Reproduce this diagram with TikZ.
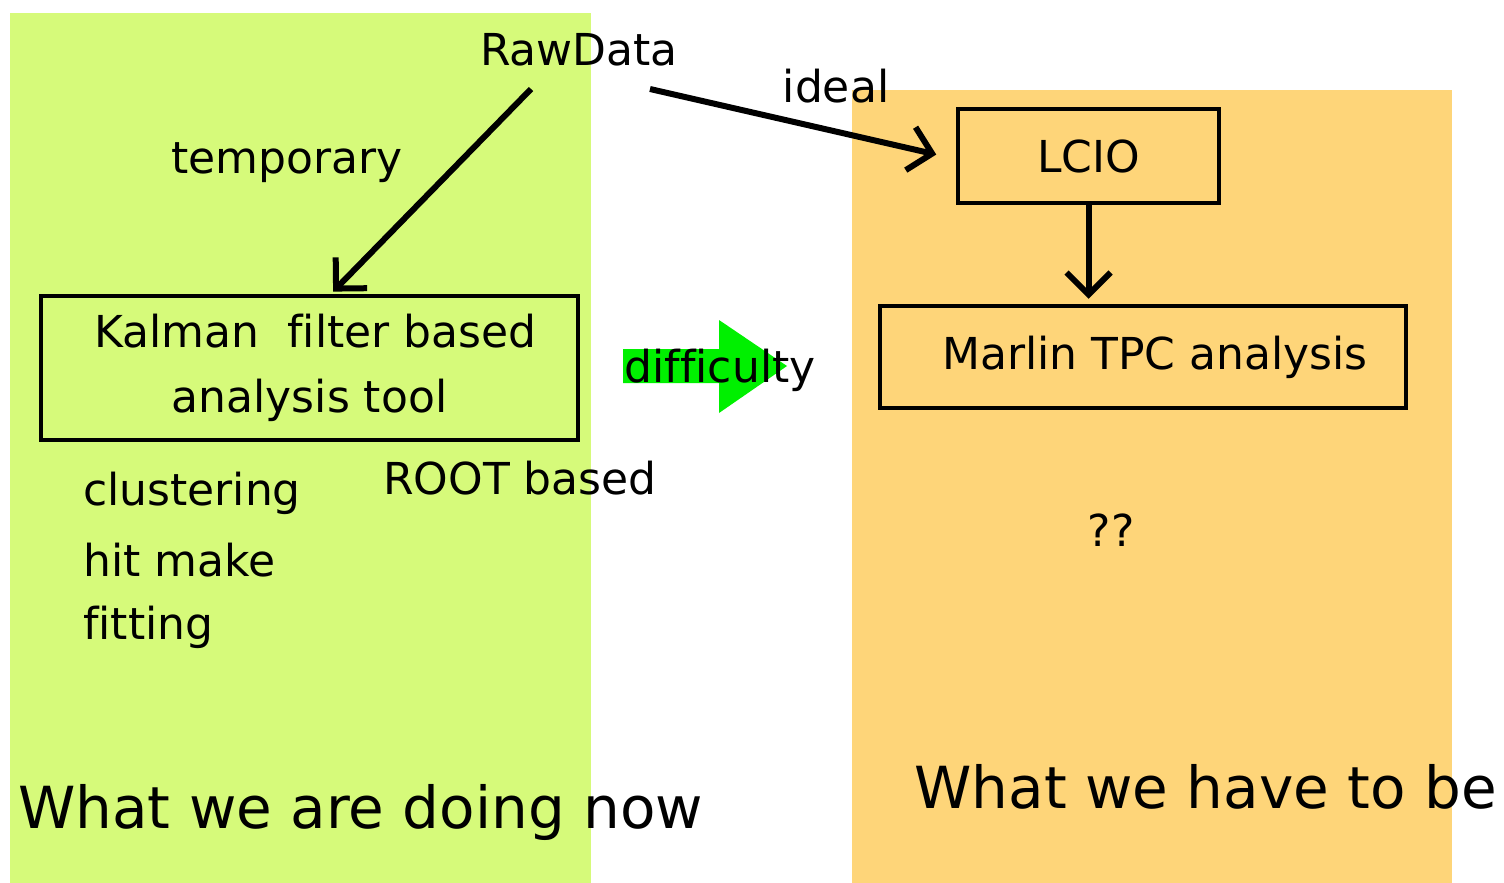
\documentclass[tikz,border=0pt]{standalone}
\usepackage{fontspec}
\setmainfont[Ligatures={NoCommon}]{DejaVu Sans}
\usetikzlibrary{arrows.meta}
\definecolor{lgreen}{RGB}{214,250,122}
\definecolor{lorange}{RGB}{254,213,121}
\definecolor{bgreen}{RGB}{0,240,0}
\tikzset{
  lbl/.style={font=\fontsize{44}{52}\selectfont, inner sep=0pt},
  big/.style={font=\fontsize{58}{66}\selectfont, inner sep=0pt},
  boxed/.style={draw=black, line width=4.5pt, inner sep=0pt, align=center, font=\fontsize{44}{65}\selectfont},
  arr/.style={line width=6pt, -{Straight Barb[length=22pt,width=44pt,line width=6pt]}}
}
\begin{document}
\begin{tikzpicture}[x=1pt,y=-1pt]
\useasboundingbox (0,0) rectangle (1504,883);
\fill[lgreen] (10,13) rectangle (591,883);
\fill[lorange] (852,90) rectangle (1452,883);
% green arrow
\fill[bgreen] (623,349) -- (719,349) -- (719,320) -- (787,366) -- (719,413) -- (719,383) -- (623,383) -- cycle;
\node[lbl] (raw) at (579,50) {RawData};
\node[lbl] (temp) at (287,163) {temporary};
\node[lbl] (ideal) at (836,86) {ideal};
\node[boxed, minimum width=537pt, minimum height=144pt] (kal) at (309.5,368) {\hspace*{12pt}Kalman\ \ filter based\\analysis tool};
\node[boxed, minimum width=261pt, minimum height=94pt] (lcio) at (1088.5,156) {LCIO};
\node[boxed, minimum width=526pt, minimum height=102pt] (marlin) at (1143,357) {\hspace*{24pt}Marlin TPC analysis};
\node[lbl, anchor=west] (clu) at (83,493) {clustering};
\node[lbl, anchor=west] (hit) at (83,560) {hit make};
\node[lbl, anchor=west] (fit) at (83,627) {fitting};
\node[lbl] (root) at (520,478) {ROOT based};
\node[lbl] (diff) at (720,370) {difficulty};
\node[lbl] (qq) at (1111,530) {??};
\node[big, anchor=west] (now) at (18,812) {What we are doing now};
\node[big, anchor=east] (tobe) at (1497,787) {What we have to be};
\coordinate (rawA) at (531,89);
\coordinate (rawB) at (650,89);
\draw[arr, shorten >=3pt] (rawA) -- (kal.north -| 331,0);
\draw[arr, shorten >=20pt] (rawB) -- (lcio.west |- 0,159);
\draw[arr, shorten >=5pt] (lcio.south) -- (marlin.north -| lcio.south);
\end{tikzpicture}
\end{document}
